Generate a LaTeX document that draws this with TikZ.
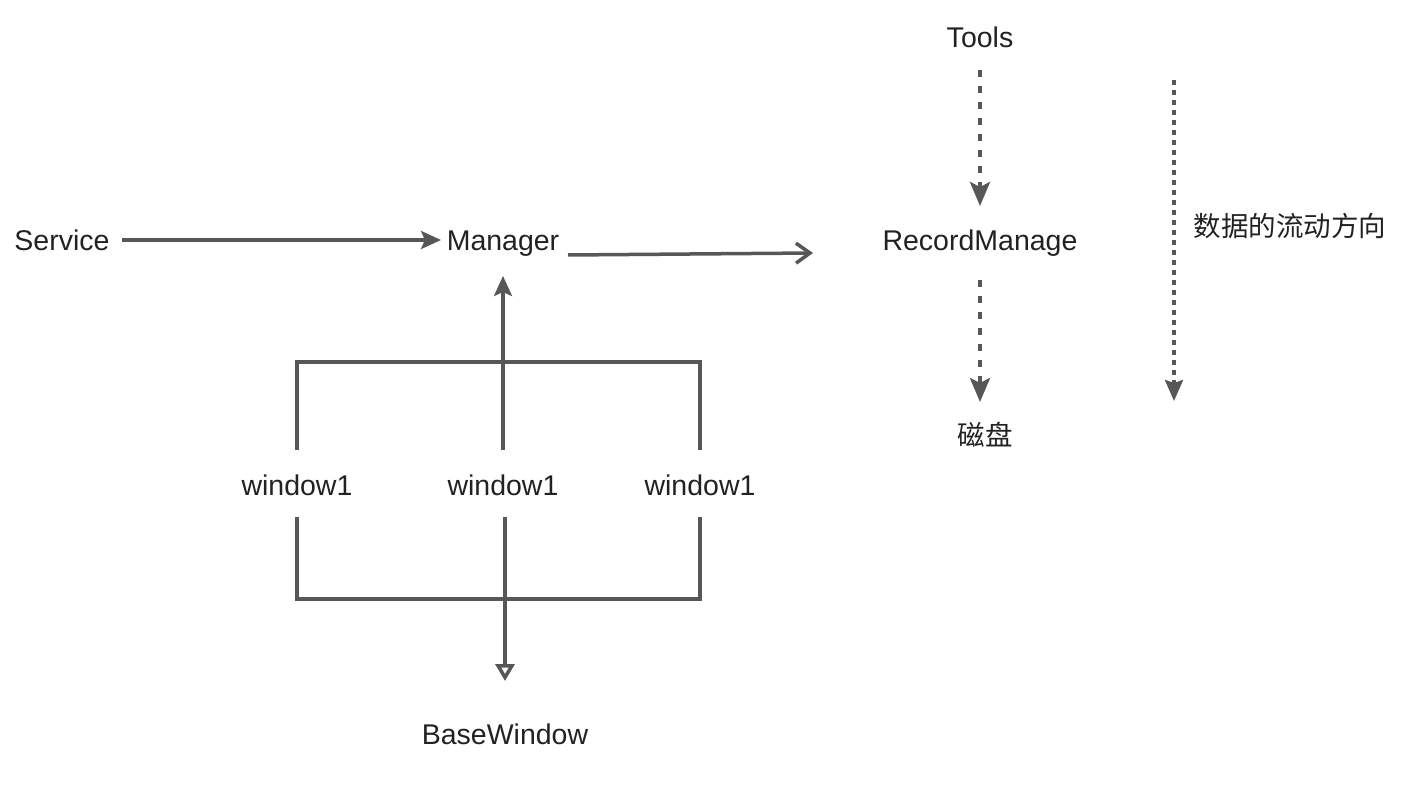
\documentclass[tikz,border=0pt]{standalone}
\usepackage{fontspec}
\setmainfont{Liberation Sans}
\newfontfamily\cjk{Noto Sans CJK SC}
\usetikzlibrary{arrows.meta}
\definecolor{ln}{HTML}{575757}
\definecolor{tx}{HTML}{222222}
\tikzset{
  lbl/.style={text=tx, font=\fontsize{28.5}{32}\selectfont, inner sep=0pt, text height=20.4pt, text depth=0pt},
  cjklbl/.style={text=tx, font=\cjk\fontsize{27.5}{32}\selectfont, inner sep=0pt},
  solidln/.style={draw=ln, line width=3.5pt},
  filledarr/.style={solidln, -{Stealth[length=20pt,width=18pt,inset=4pt]}},
  openarr/.style={solidln, -{Straight Barb[length=14pt,width=20pt]}},
  triarr/.style={solidln, -{Triangle[open,length=17pt,width=19pt]}},
  dasharr/.style={draw=ln, line width=4pt, dash pattern=on 7pt off 9pt, -{Stealth[length=24pt,width=20pt,inset=5pt]}},
  dasharrthin/.style={draw=ln, line width=3.5pt, dash pattern=on 5pt off 5pt, -{Stealth[length=21pt,width=18pt,inset=3pt]}},
}
\begin{document}
\begin{tikzpicture}[x=1pt,y=-1pt]
\path[use as bounding box] (0,0) rectangle (1406,791);
\node[lbl] (tools) at (980,37) {Tools};
\node[lbl] (service) at (62,240) {Service};
\node[lbl] (manager) at (503,240) {Manager};
\node[lbl] (record) at (980,240) {RecordManage};
\node[cjklbl] (flow) at (1290,226) {数据的流动方向};
\node[cjklbl] (disk) at (985,435) {磁盘};
\node[lbl] (w1) at (297,485) {window1};
\node[lbl] (w2) at (503,485) {window1};
\node[lbl] (w3) at (700,485) {window1};
\node[lbl] (base) at (505,734) {BaseWindow};

\coordinate (sA) at (122,240);
\coordinate (sB) at (441,240);
\draw[filledarr] (sA) -- (sB);
\coordinate (mA) at (568,255);
\coordinate (mB) at (813,253);
\draw[openarr] (mA) -- (mB);

% upper bracket
\coordinate (t1) at (297,450);
\coordinate (t2) at (503,450);
\coordinate (t3) at (700,450);
\draw[solidln] (t1) -- (297,362) -- (700,362) -- (t3);
\draw[filledarr] (t2) -- (503,276);

% lower bracket
\coordinate (b1) at (297,517);
\coordinate (b2) at (505,517);
\coordinate (b3) at (700,517);
\draw[solidln] (b1) -- (297,599) -- (700,599) -- (b3);
\draw[triarr] (b2) -- (505,681);

% dashed arrows
\coordinate (d1) at (980,70);
\coordinate (d2) at (980,206);
\draw[dasharr] (d1) -- (d2);
\coordinate (d3) at (980,280);
\coordinate (d4) at (980,402);
\draw[dasharr] (d3) -- (d4);
\coordinate (d5) at (1174,80);
\coordinate (d6) at (1174,401);
\draw[dasharrthin] (d5) -- (d6);
\end{tikzpicture}
\end{document}
